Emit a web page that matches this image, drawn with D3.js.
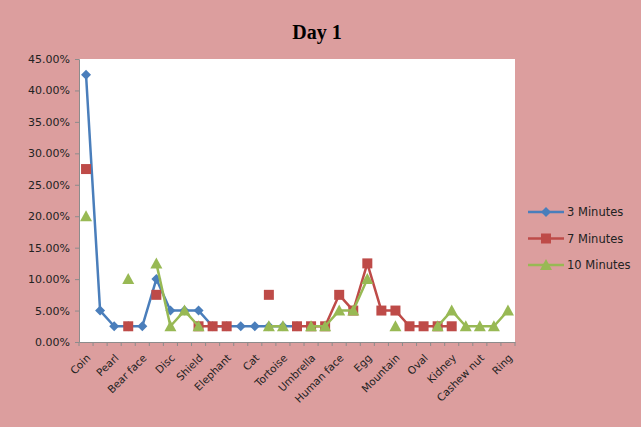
<!DOCTYPE html>
<html>
<head>
<meta charset="utf-8">
<script src="https://cdn.jsdelivr.net/npm/d3@7"></script>
<style>
  html, body { margin: 0; padding: 0; background: #DC9E9E; }
  svg { display: block; }
</style>
</head>
<body>
<svg id="chart" width="641" height="427"></svg>
<script>
// ---- data ----
const categories = [
  "Coin", "Shape 2", "Pearl", "Shape 4", "Bear face", "Shape 6", "Disc", "Shape 8",
  "Shield", "Shape 10", "Elephant", "Shape 12", "Cat", "Shape 14", "Tortoise", "Shape 16",
  "Umbrella", "Shape 18", "Human face", "Shape 20", "Egg", "Shape 22", "Mountain", "Shape 24",
  "Oval", "Shape 26", "Kidney", "Shape 28", "Cashew nut", "Shape 30", "Ring"
];
const shownLabels = ["Coin", "Pearl", "Bear face", "Disc", "Shield", "Elephant", "Cat", "Tortoise",
  "Umbrella", "Human face", "Egg", "Mountain", "Oval", "Kidney", "Cashew nut", "Ring"];
const seriesNames = ["3 Minutes", "7 Minutes", "10 Minutes"];
const min3 = [0.425, 0.05, 0.025, 0.025, 0.025, 0.10, 0.05, 0.05, 0.05, 0.025, 0.025, 0.025, 0.025, 0.025, 0.025, 0.025,
  null, null, null, null, null, null, null, null, null, null, null, null, null, null, null];
const min7 = [0.275, null, null, 0.025, null, 0.075, null, null, 0.025, 0.025, 0.025, null, null, 0.075, null, 0.025,
  0.025, 0.025, 0.075, 0.05, 0.125, 0.05, 0.05, 0.025, 0.025, 0.025, 0.025, null, null, null, null];
const min10 = [0.20, null, null, 0.10, null, 0.125, 0.025, 0.05, 0.025, null, null, null, null, 0.025, 0.025, null,
  0.025, 0.025, 0.05, 0.05, 0.10, null, 0.025, null, null, 0.025, 0.05, 0.025, 0.025, 0.025, 0.05];
const yTicks = [0, 0.05, 0.10, 0.15, 0.20, 0.25, 0.30, 0.35, 0.40, 0.45];
const title = "Day 1";

// ---- layout ----
const svg = d3.select("#chart");
const plot = { left: 79, right: 515, top: 59, bottom: 342 };
const colors = ["#4A7EBB", "#BE4B48", "#98B954"];
const shapes = ["diamond", "square", "triangle"];
const font = "DejaVu Sans, Verdana, sans-serif";

const x = d3.scalePoint().domain(categories).range([plot.left, plot.right]).padding(0.5);
const y = d3.scaleLinear().domain([0, 0.45]).range([plot.bottom, plot.top]);

// title
svg.append("text")
  .attr("x", 317).attr("y", 39)
  .attr("text-anchor", "middle")
  .attr("font-family", "Liberation Serif, serif")
  .attr("font-weight", "bold")
  .attr("font-size", 20)
  .attr("fill", "#000")
  .text(title);

// plot area
svg.append("rect")
  .attr("x", plot.left).attr("y", plot.top)
  .attr("width", plot.right - plot.left).attr("height", plot.bottom - plot.top)
  .attr("fill", "#fff");

// y axis
const yAxis = d3.axisLeft(y).tickValues(yTicks).tickFormat(d3.format(".2%")).tickSize(4).tickPadding(5);
const gy = svg.append("g").attr("transform", `translate(${plot.left},0)`).call(yAxis);
gy.select(".domain").attr("stroke", "#8c8c8c");
gy.selectAll(".tick line").attr("stroke", "#8c8c8c");
gy.selectAll(".tick text").attr("font-family", font).attr("font-size", 11).attr("fill", "#222");

// x axis
const step = x.step();
const xAxis = d3.axisBottom(x).tickSize(0).tickFormat(d => shownLabels.includes(d) ? d : "");
const gx = svg.append("g").attr("transform", `translate(0,${plot.bottom})`).call(xAxis);
gx.select(".domain").attr("stroke", "#8c8c8c");
gx.selectAll(".tick line").remove();
gx.selectAll(".tick text")
  .attr("font-family", font)
  .attr("font-size", 10.5)
  .attr("fill", "#222")
  .attr("text-anchor", "end")
  .attr("x", 0).attr("y", 0).attr("dy", "0.35em")
  .attr("transform", "translate(2,14) rotate(-45)");
// boundary ticks
const bounds = d3.range(categories.length + 1).map(i => plot.left + i * step);
gx.selectAll(".btick").data(bounds).join("line")
  .attr("class", "btick")
  .attr("x1", d => d).attr("x2", d => d)
  .attr("y1", 0).attr("y2", 4)
  .attr("stroke", "#8c8c8c");

// series
const allSeries = [min3, min7, min10];
function markerPath(shape) {
  if (shape === "diamond") return "M0,-5L5,0L0,5L-5,0Z";
  if (shape === "square") return "M-5,-5H5V5H-5Z";
  return "M0,-6L6,5H-6Z";
}
const line = d3.line()
  .defined(d => d.v != null)
  .x(d => x(d.c)).y(d => y(d.v));

allSeries.forEach((vals, si) => {
  const pts = vals.map((v, i) => ({ c: categories[i], v }));
  const g = svg.append("g");
  g.append("path").datum(pts)
    .attr("d", line)
    .attr("fill", "none")
    .attr("stroke", colors[si])
    .attr("stroke-width", 2.5)
    .attr("stroke-linejoin", "round");
  g.selectAll("path.m").data(pts.filter(d => d.v != null)).join("path")
    .attr("class", "m")
    .attr("d", markerPath(shapes[si]))
    .attr("transform", d => `translate(${x(d.c)},${y(d.v)})`)
    .attr("fill", colors[si]);
});

// legend
const legend = svg.append("g");
seriesNames.forEach((name, i) => {
  const ly = 212 + i * 26.5;
  const lg = legend.append("g").attr("transform", `translate(0,${ly})`);
  lg.append("line").attr("x1", 528).attr("x2", 564).attr("y1", 0).attr("y2", 0)
    .attr("stroke", colors[i]).attr("stroke-width", 2.5);
  lg.append("path").attr("d", markerPath(shapes[i])).attr("transform", "translate(546,0)").attr("fill", colors[i]);
  lg.append("text").attr("x", 567).attr("y", 0).attr("dy", "0.35em")
    .attr("font-family", font).attr("font-size", 11.5).attr("fill", "#222")
    .text(name);
});
</script>
</body>
</html>
